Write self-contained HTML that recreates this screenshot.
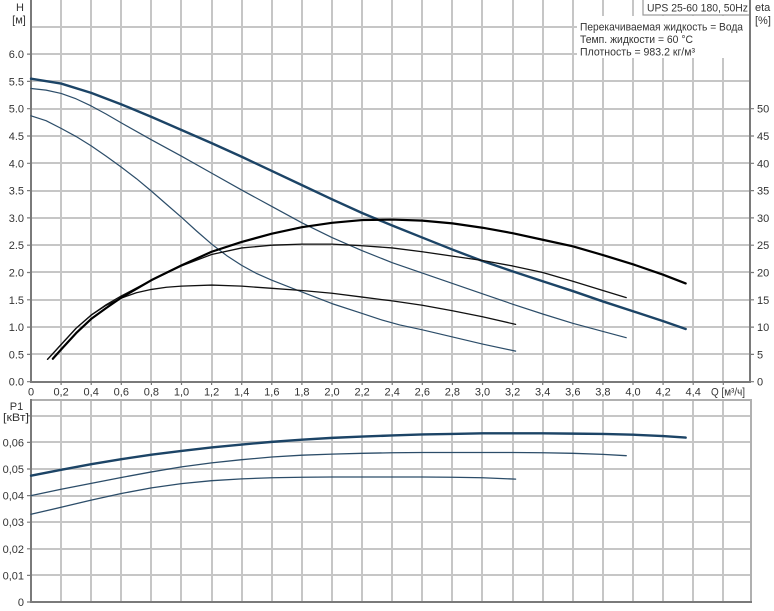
<!DOCTYPE html>
<html><head><meta charset="utf-8"><style>
html,body{margin:0;padding:0;background:#fff;}
svg{display:block;}
text{font-family:"Liberation Sans",Arial,sans-serif;font-size:11px;fill:#333;}
</style></head><body>
<svg width="774" height="611" viewBox="0 0 774 611" xmlns="http://www.w3.org/2000/svg">
<rect width="774" height="611" fill="#fff"/>
<!-- upper grid -->
<g fill="#c6c6c6">
<rect x="31" y="353" width="719" height="2"/><rect x="31" y="326" width="719" height="2"/><rect x="31" y="299" width="719" height="2"/><rect x="31" y="271" width="719" height="2"/><rect x="31" y="244" width="719" height="2"/><rect x="31" y="217" width="719" height="2"/><rect x="31" y="190" width="719" height="2"/><rect x="31" y="162" width="719" height="2"/><rect x="31" y="135" width="719" height="2"/><rect x="31" y="108" width="719" height="2"/><rect x="31" y="80" width="719" height="2"/><rect x="31" y="53" width="719" height="2"/><rect x="31" y="26" width="719" height="2"/>
<rect x="60" y="0" width="2" height="382"/><rect x="90" y="0" width="2" height="382"/><rect x="120" y="0" width="2" height="382"/><rect x="150" y="0" width="2" height="382"/><rect x="180" y="0" width="2" height="382"/><rect x="211" y="0" width="2" height="382"/><rect x="241" y="0" width="2" height="382"/><rect x="271" y="0" width="2" height="382"/><rect x="301" y="0" width="2" height="382"/><rect x="331" y="0" width="2" height="382"/><rect x="361" y="0" width="2" height="382"/><rect x="391" y="0" width="2" height="382"/><rect x="421" y="0" width="2" height="382"/><rect x="451" y="0" width="2" height="382"/><rect x="481" y="0" width="2" height="382"/><rect x="512" y="0" width="2" height="382"/><rect x="542" y="0" width="2" height="382"/><rect x="572" y="0" width="2" height="382"/><rect x="602" y="0" width="2" height="382"/><rect x="632" y="0" width="2" height="382"/><rect x="662" y="0" width="2" height="382"/><rect x="692" y="0" width="2" height="382"/><rect x="722" y="0" width="2" height="382"/>
</g>
<!-- lower grid -->
<g fill="#c6c6c6">
<rect x="31" y="574" width="720" height="2"/><rect x="31" y="548" width="720" height="2"/><rect x="31" y="521" width="720" height="2"/><rect x="31" y="495" width="720" height="2"/><rect x="31" y="468" width="720" height="2"/><rect x="31" y="441" width="720" height="2"/><rect x="31" y="415" width="720" height="2"/>
<rect x="60" y="400" width="2" height="202"/><rect x="90" y="400" width="2" height="202"/><rect x="120" y="400" width="2" height="202"/><rect x="150" y="400" width="2" height="202"/><rect x="180" y="400" width="2" height="202"/><rect x="211" y="400" width="2" height="202"/><rect x="241" y="400" width="2" height="202"/><rect x="271" y="400" width="2" height="202"/><rect x="301" y="400" width="2" height="202"/><rect x="331" y="400" width="2" height="202"/><rect x="361" y="400" width="2" height="202"/><rect x="391" y="400" width="2" height="202"/><rect x="421" y="400" width="2" height="202"/><rect x="451" y="400" width="2" height="202"/><rect x="481" y="400" width="2" height="202"/><rect x="512" y="400" width="2" height="202"/><rect x="542" y="400" width="2" height="202"/><rect x="572" y="400" width="2" height="202"/><rect x="602" y="400" width="2" height="202"/><rect x="632" y="400" width="2" height="202"/><rect x="662" y="400" width="2" height="202"/><rect x="692" y="400" width="2" height="202"/><rect x="722" y="400" width="2" height="202"/>
</g>
<g fill="#b0b0b0">
<rect x="31" y="399" width="721" height="2"/>
<rect x="750" y="399" width="2" height="204"/>
</g>

<!-- text block background -->
<rect x="577" y="16" width="173" height="42" fill="#fff"/>
<rect x="643" y="-1" width="107" height="16" fill="#fff" stroke="#9a9a9a" stroke-width="1.2"/>

<!-- axes -->
<g fill="#7a7a7a">
<rect x="30" y="0" width="2" height="383"/>
<rect x="30" y="381" width="721" height="2"/>
<rect x="749" y="0" width="2" height="383"/>
<rect x="30" y="399" width="2" height="204"/>
<rect x="30" y="601" width="722" height="2"/>
</g>
<!-- ticks -->
<path fill="none" stroke="#7a7a7a" stroke-width="1.2" d="M27 381.7H31M27 354.4H31M27 327.1H31M27 299.8H31M27 272.5H31M27 245.2H31M27 217.9H31M27 190.6H31M27 163.3H31M27 136H31M27 108.7H31M27 81.4H31M27 54.1H31M750 381.7H754M750 354.4H754M750 327.1H754M750 299.8H754M750 272.5H754M750 245.2H754M750 217.9H754M750 190.6H754M750 163.3H754M750 136H754M750 108.7H754M27 602H31M27 575.4H31M27 548.8H31M27 522.2H31M27 495.6H31M27 469H31M27 442.4H31M27 415.8H31M61.1 381.7V385M91.2 381.7V385M121.3 381.7V385M151.4 381.7V385M181.5 381.7V385M211.6 381.7V385M241.7 381.7V385M271.8 381.7V385M301.9 381.7V385M332 381.7V385M362.1 381.7V385M392.2 381.7V385M422.3 381.7V385M452.4 381.7V385M482.5 381.7V385M512.6 381.7V385M542.7 381.7V385M572.8 381.7V385M602.9 381.7V385M633 381.7V385M663.1 381.7V385M693.2 381.7V385M723.3 381.7V385"/>

<!-- H curves -->
<g transform="translate(31 381.7) scale(150.5 -54.6)" fill="none" stroke-linejoin="round" stroke-linecap="round">
<polyline vector-effect="non-scaling-stroke" stroke="#2c4d69" stroke-width="1.2" points="0,4.87 0.1,4.78 0.2,4.64 0.3,4.49 0.4,4.32 0.5,4.13 0.6,3.93 0.7,3.72 0.8,3.49 0.9,3.25 1.0,3.01 1.1,2.76 1.2,2.52 1.3,2.31 1.4,2.13 1.5,1.98 1.6,1.86 1.765,1.68 2.0,1.43 2.2,1.25 2.32,1.14 2.45,1.04 2.6,0.95 2.8,0.82 3.0,0.69 3.22,0.56"/>
<polyline vector-effect="non-scaling-stroke" stroke="#2c4d69" stroke-width="1.2" points="0,5.37 0.1,5.34 0.2,5.28 0.3,5.18 0.4,5.05 0.5,4.90 0.6,4.74 0.8,4.43 1.0,4.13 1.2,3.82 1.4,3.51 1.6,3.21 1.8,2.91 2.0,2.64 2.2,2.40 2.4,2.18 2.6,1.99 2.8,1.80 3.0,1.61 3.2,1.42 3.4,1.24 3.6,1.07 3.8,0.92 3.955,0.806"/>
<polyline vector-effect="non-scaling-stroke" stroke="#1c4466" stroke-width="2.4" points="0,5.55 0.2,5.46 0.4,5.29 0.6,5.08 0.8,4.85 1.0,4.61 1.2,4.37 1.4,4.12 1.6,3.86 1.8,3.60 2.0,3.34 2.2,3.09 2.4,2.86 2.6,2.64 2.8,2.42 3.0,2.21 3.2,2.02 3.4,1.84 3.6,1.66 3.8,1.47 4.0,1.29 4.2,1.11 4.35,0.965"/>
</g>
<!-- eta curves -->
<g transform="translate(31 381.7) scale(150.5 -5.46)" fill="none" stroke-linejoin="round" stroke-linecap="round">
<polyline vector-effect="non-scaling-stroke" stroke="#111" stroke-width="1.3" points="0.11,4.1 0.15,5.3 0.2,6.8 0.3,9.8 0.4,12.2 0.5,14.0 0.6,15.3 0.7,16.3 0.8,16.9 0.9,17.3 1.0,17.5 1.2,17.7 1.4,17.5 1.6,17.1 1.8,16.7 2.0,16.2 2.2,15.5 2.4,14.8 2.6,14.0 2.8,13.0 3.0,11.9 3.22,10.5"/>
<polyline vector-effect="non-scaling-stroke" stroke="#111" stroke-width="1.3" points="0.11,4.1 0.15,5.3 0.2,6.8 0.3,9.8 0.4,12.2 0.5,14.1 0.6,15.7 0.8,18.6 1.0,21.2 1.2,23.3 1.4,24.5 1.6,25.0 1.8,25.2 2.0,25.2 2.2,24.9 2.4,24.5 2.6,23.8 2.8,23.0 3.0,22.2 3.2,21.2 3.4,20.0 3.6,18.4 3.8,16.7 3.955,15.4"/>
<polyline vector-effect="non-scaling-stroke" stroke="#000" stroke-width="2.2" points="0.145,4.2 0.2,5.9 0.3,8.9 0.4,11.5 0.5,13.5 0.6,15.4 0.8,18.6 1.0,21.3 1.2,23.8 1.4,25.6 1.6,27.1 1.8,28.3 2.0,29.1 2.2,29.6 2.4,29.7 2.6,29.5 2.8,29.0 3.0,28.2 3.2,27.2 3.4,26.0 3.6,24.8 3.8,23.2 4.0,21.5 4.2,19.6 4.35,18.0"/>
</g>
<!-- P1 curves -->
<g transform="translate(31 602) scale(150.5 -2660)" fill="none" stroke-linejoin="round" stroke-linecap="round">
<polyline vector-effect="non-scaling-stroke" stroke="#2c4d69" stroke-width="1.3" points="0,0.0330 0.2,0.0356 0.4,0.0383 0.6,0.0408 0.8,0.0429 1.0,0.0445 1.2,0.0456 1.4,0.0463 1.6,0.0467 1.8,0.0469 2.0,0.0470 2.4,0.0470 2.6,0.0470 2.8,0.0469 3.0,0.0467 3.22,0.0462"/>
<polyline vector-effect="non-scaling-stroke" stroke="#2c4d69" stroke-width="1.3" points="0,0.0400 0.2,0.0424 0.4,0.0446 0.6,0.0468 0.8,0.0489 1.0,0.0508 1.2,0.0523 1.4,0.0535 1.6,0.0545 1.8,0.0552 2.0,0.0556 2.2,0.0559 2.4,0.0561 2.6,0.0562 3.2,0.0562 3.4,0.0561 3.6,0.0559 3.8,0.0555 3.955,0.0550"/>
<polyline vector-effect="non-scaling-stroke" stroke="#1c4466" stroke-width="2.4" points="0,0.0475 0.2,0.0497 0.4,0.0518 0.6,0.0537 0.8,0.0554 1.0,0.0568 1.2,0.0581 1.4,0.0592 1.6,0.0602 1.8,0.0610 2.0,0.0617 2.2,0.0622 2.4,0.0626 2.6,0.0630 2.8,0.0632 3.0,0.0634 3.4,0.0634 3.6,0.0633 3.8,0.0632 4.0,0.0629 4.2,0.0624 4.35,0.0618"/>
</g>

<!-- labels -->
<text x="20" y="11" text-anchor="middle">H</text>
<text x="19" y="23.5" text-anchor="middle">[м]</text>
<g text-anchor="end">
<text x="24" y="385.7">0.0</text><text x="24" y="358.4">0.5</text><text x="24" y="331.1">1.0</text><text x="24" y="303.8">1.5</text><text x="24" y="276.5">2.0</text><text x="24" y="249.2">2.5</text><text x="24" y="221.9">3.0</text><text x="24" y="194.6">3.5</text><text x="24" y="167.3">4.0</text><text x="24" y="140">4.5</text><text x="24" y="112.7">5.0</text><text x="24" y="85.4">5.5</text><text x="24" y="58.1">6.0</text>
<text x="24" y="606">0</text><text x="24" y="579.4">0,01</text><text x="24" y="552.8">0,02</text><text x="24" y="526.2">0,03</text><text x="24" y="499.6">0,04</text><text x="24" y="473">0,05</text><text x="24" y="446.4">0,06</text>
</g>
<text x="757" y="385.7">0</text><text x="757" y="358.4">5</text><text x="757" y="331.1">10</text><text x="757" y="303.8">15</text><text x="757" y="276.5">20</text><text x="757" y="249.2">25</text><text x="757" y="221.9">30</text><text x="757" y="194.6">35</text><text x="757" y="167.3">40</text><text x="757" y="140">45</text><text x="757" y="112.7">50</text>
<text x="755" y="11">eta</text>
<text x="755" y="24">[%]</text>
<g text-anchor="middle">
<text x="31" y="395.5">0</text><text x="61.1" y="395.5">0,2</text><text x="91.2" y="395.5">0,4</text><text x="121.3" y="395.5">0,6</text><text x="151.4" y="395.5">0,8</text><text x="181.5" y="395.5">1,0</text><text x="211.6" y="395.5">1,2</text><text x="241.7" y="395.5">1,4</text><text x="271.8" y="395.5">1,6</text><text x="301.9" y="395.5">1,8</text><text x="332" y="395.5">2,0</text><text x="362.1" y="395.5">2,2</text><text x="392.2" y="395.5">2,4</text><text x="422.3" y="395.5">2,6</text><text x="452.4" y="395.5">2,8</text><text x="482.5" y="395.5">3,0</text><text x="512.6" y="395.5">3,2</text><text x="542.7" y="395.5">3,4</text><text x="572.8" y="395.5">3,6</text><text x="602.9" y="395.5">3,8</text><text x="633" y="395.5">4,0</text><text x="663.1" y="395.5">4,2</text><text x="693.2" y="395.5">4,4</text>
<text x="16.5" y="410">P1</text>
<text x="16" y="421" textLength="26" lengthAdjust="spacingAndGlyphs">[кВт]</text>
</g>
<text x="711" y="395.5" textLength="34" lengthAdjust="spacingAndGlyphs">Q [м³/ч]</text>
<text x="647" y="11.5" textLength="101" lengthAdjust="spacingAndGlyphs">UPS 25-60 180, 50Hz</text>
<text x="580" y="30.5" textLength="163" lengthAdjust="spacingAndGlyphs">Перекачиваемая жидкость = Вода</text>
<text x="580" y="43" textLength="113" lengthAdjust="spacingAndGlyphs">Темп. жидкости = 60 °C</text>
<text x="580" y="55.5" textLength="115" lengthAdjust="spacingAndGlyphs">Плотность = 983.2 кг/м³</text>
</svg>
</body></html>
